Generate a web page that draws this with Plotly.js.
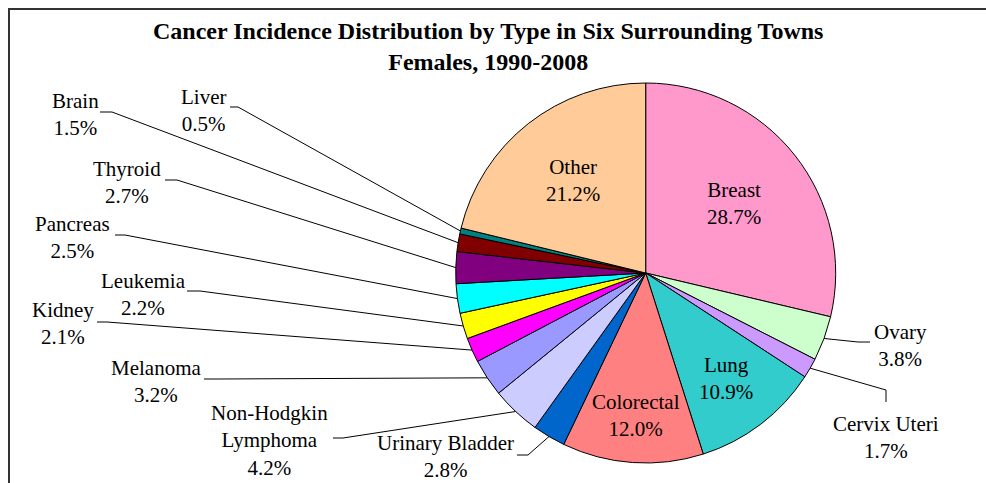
<!DOCTYPE html>
<html>
<head>
<meta charset="utf-8">
<script src="https://cdn.plot.ly/plotly-3.0.1.min.js"></script>
<style>
  html, body { margin: 0; padding: 0; background: #fff; }
  #plot { width: 986px; height: 483px; }
</style>
</head>
<body>
<div id="plot"></div>
<script>
// slices, clockwise from 12 o'clock
var labels = ["Breast", "Ovary", "Cervix Uteri", "Lung", "Colorectal", "Urinary Bladder",
  "Non-Hodgkin<br>Lymphoma", "Melanoma", "Kidney", "Leukemia", "Pancreas", "Thyroid",
  "Brain", "Liver", "Other"];
var values = [28.7, 3.8, 1.7, 10.9, 12.0, 2.8, 4.2, 3.2, 2.1, 2.2, 2.5, 2.7, 1.5, 0.5, 21.2];
var colors = ["#FF99CC", "#CCFFCC", "#CC99FF", "#33CCCC", "#FF8080", "#0066CC",
  "#CCCCFF", "#9999FF", "#FF00FF", "#FFFF00", "#00FFFF", "#800080",
  "#800000", "#008080", "#FFCC99"];

// label placement (pixels). inside labels: radius fraction; outside: label centre + elbow + line end
var W = 986, H = 483;
var cx = 645.7, cy = 273, R = 190;
var place = {
  "Breast": {inside: 0.59},
  "Lung": {inside: 0.70},
  "Colorectal": {inside: 0.75},
  "Other": {inside: 0.62},
  "Ovary": {lab: [900, 345], elbow: [858, 342], end: [870, 342]},
  "Cervix Uteri": {lab: [886, 437], elbow: [886, 390], end: [886, 402]},
  "Urinary Bladder": {lab: [445, 456], elbow: [528, 455], end: [517, 455]},
  "Non-Hodgkin<br>Lymphoma": {lab: [269, 440], elbow: [343, 438], end: [333, 438]},
  "Melanoma": {lab: [156, 381], elbow: [217, 379], end: [204, 379]},
  "Kidney": {lab: [63, 323], elbow: [107, 322], end: [97, 322]},
  "Leukemia": {lab: [143, 294], elbow: [200, 291], end: [187, 291]},
  "Pancreas": {lab: [72, 238], elbow: [125, 235], end: [115, 235]},
  "Thyroid": {lab: [127, 183], elbow: [177, 180], end: [165, 180]},
  "Brain": {lab: [75, 114], elbow: [112, 112], end: [100, 112]},
  "Liver": {lab: [203, 110], elbow: [238, 107], end: [230, 107]}
};

function px(x) { return x / W; }
function py(y) { return 1 - y / H; }

var total = values.reduce(function (a, b) { return a + b; }, 0);
var annotations = [];
var shapes = [];
var cum = 0;
for (var i = 0; i < values.length; i++) {
  var mid = (cum + values[i] / 2) / total * 2 * Math.PI;
  cum += values[i];
  var p = place[labels[i]];
  var txt = labels[i] + "<br>" + values[i].toFixed(1) + "%";
  if (p.inside) {
    annotations.push({
      xref: "paper", yref: "paper", showarrow: false,
      x: px(cx + p.inside * R * Math.sin(mid)), y: py(cy - p.inside * R * Math.cos(mid)),
      xanchor: "center", yanchor: "middle", text: txt
    });
  } else {
    var ex = cx + R * Math.sin(mid), ey = cy - R * Math.cos(mid);
    shapes.push({
      type: "path", xref: "paper", yref: "paper",
      path: "M " + px(ex) + " " + py(ey) + " L " + px(p.elbow[0]) + " " + py(p.elbow[1]) +
            " L " + px(p.end[0]) + " " + py(p.end[1]),
      line: {color: "#000", width: 1}
    });
    annotations.push({
      xref: "paper", yref: "paper", showarrow: false,
      x: px(p.lab[0]), y: py(p.lab[1]),
      xanchor: "center", yanchor: "middle", text: txt
    });
  }
}

// chart title
annotations.push({
  xref: "paper", yref: "paper", showarrow: false,
  x: px(488), y: py(46), xanchor: "center", yanchor: "middle",
  text: "<b>Cancer Incidence Distribution by Type in Six Surrounding Towns<br>Females, 1990-2008</b>",
  font: {size: 24}
});

// chart frame
shapes.push({
  type: "rect", xref: "paper", yref: "paper",
  x0: px(9), x1: 1.05, y0: -0.05, y1: py(9),
  line: {color: "#333", width: 2}
});

var trace = {
  type: "pie",
  labels: labels,
  values: values,
  sort: false,
  direction: "clockwise",
  rotation: 0,
  textinfo: "none",
  hoverinfo: "skip",
  marker: {colors: colors, line: {color: "#000", width: 1}},
  domain: {x: [px(cx - R), px(cx + R)], y: [py(cy + R), py(cy - R)]},
  showlegend: false
};

var layout = {
  width: W, height: H,
  margin: {l: 0, r: 0, t: 0, b: 0},
  paper_bgcolor: "#fff",
  font: {family: "Liberation Serif, Times New Roman, serif", size: 21, color: "#000"},
  annotations: annotations,
  shapes: shapes
};

Plotly.newPlot("plot", [trace], layout, {staticPlot: true});
</script>
</body>
</html>
